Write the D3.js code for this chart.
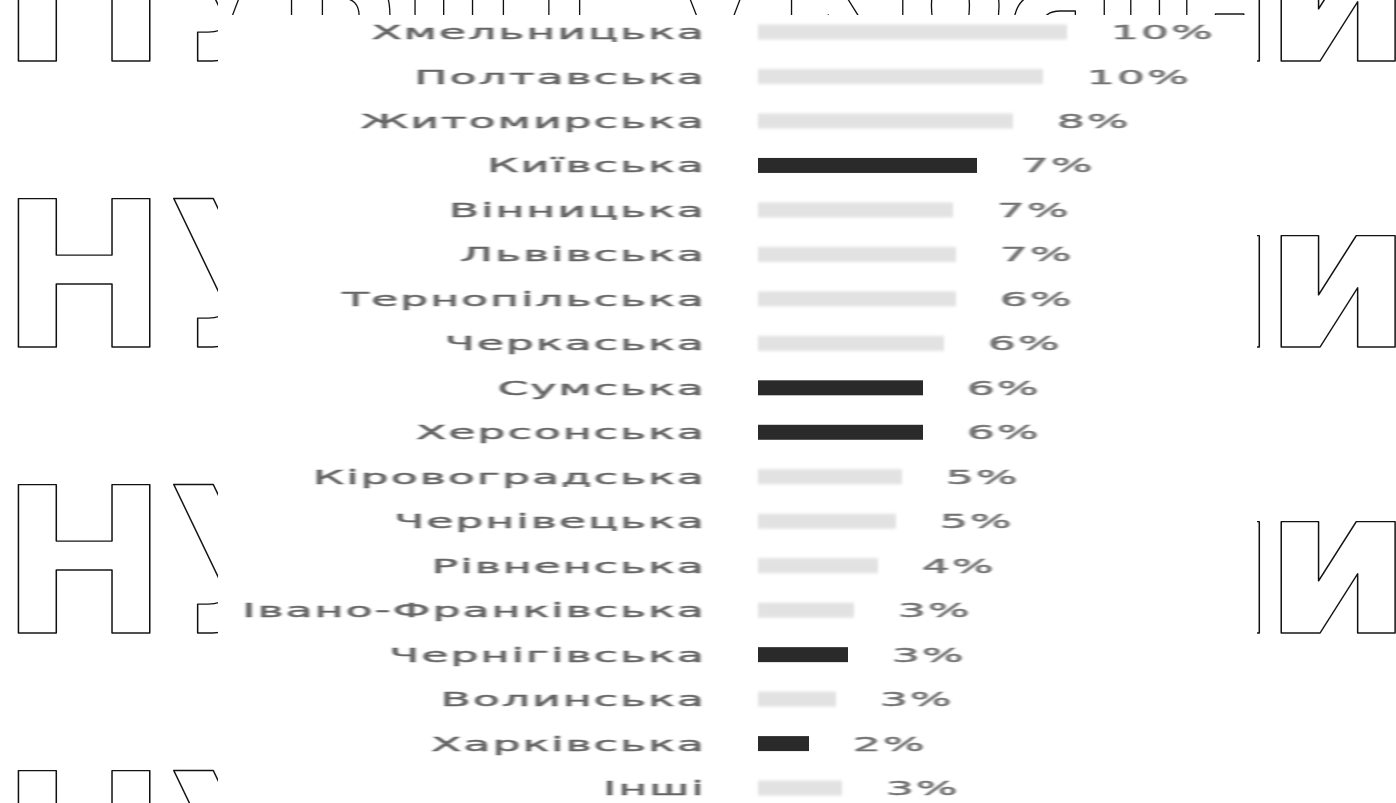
<!DOCTYPE html>
<html>
<head>
<meta charset="utf-8">
<script src="https://cdn.jsdelivr.net/npm/d3@7"></script>
<style>
  html, body { margin: 0; padding: 0; background: #ffffff; }
  svg { display: block; }
</style>
</head>
<body>
<svg id="chart" width="1396" height="803"></svg>
<script>
// ---- data ----
const categories = ["Хмельницька", "Полтавська", "Житомирська", "Київська", "Вінницька", "Львівська",
  "Тернопільська", "Черкаська", "Сумська", "Херсонська", "Кіровоградська", "Чернівецька",
  "Рівненська", "Івано-Франківська", "Чернігівська", "Волинська", "Харківська", "Інші"];
const values = [10.3, 9.5, 8.5, 7.3, 6.5, 6.6, 6.6, 6.2, 5.5, 5.5, 4.8, 4.6, 4.0, 3.2, 3.0, 2.6, 1.7, 2.8];
const valueLabels = ["10%", "10%", "8%", "7%", "7%", "7%", "6%", "6%", "6%", "6%", "5%", "5%", "4%", "3%", "3%", "3%", "2%", "3%"];
const highlighted = ["Київська", "Сумська", "Херсонська", "Чернігівська", "Харківська"];
const watermarkText = "НУБіП України";
const watermarkLeft = "НУ";
const watermarkRight1 = "н";
const watermarkRight2 = "и";
const watermarkRows = [0, 1, 2, 3];

// ---- layout ----
const W = 1396, H = 803;
const panel = { x0: 218, x1: 1257, y0: 15 };
const svg = d3.select("#chart");
const defs = svg.append("defs");
defs.append("filter").attr("id", "softBar").attr("x", "-5%").attr("y", "-50%").attr("width", "110%").attr("height", "200%")
  .append("feGaussianBlur").attr("stdDeviation", 1.6);
defs.append("filter").attr("id", "softText").attr("x", "-5%").attr("y", "-30%").attr("width", "110%").attr("height", "160%")
  .append("feGaussianBlur").attr("stdDeviation", 0.7);
defs.append("filter").attr("id", "softDark").attr("x", "-5%").attr("y", "-50%").attr("width", "110%").attr("height", "200%")
  .append("feGaussianBlur").attr("stdDeviation", 0.6);
defs.append("clipPath").attr("id", "clipLeft").append("rect").attr("x", 0).attr("y", 0).attr("width", panel.x0).attr("height", H);
defs.append("clipPath").attr("id", "clipRight").append("rect").attr("x", panel.x1).attr("y", 0).attr("width", W - panel.x1).attr("height", H);
defs.append("clipPath").attr("id", "clipTop").append("rect").attr("x", panel.x0).attr("y", 0).attr("width", panel.x1 - panel.x0).attr("height", panel.y0);

// watermark (outlined letters around the chart panel)
const wmStyle = sel => sel
  .style("font-family", "'DejaVu Sans Condensed', 'DejaVu Sans', sans-serif")
  .style("font-stretch", "condensed")
  .style("font-weight", "bold")
  .style("font-size", "203px")
  .attr("fill", "#ffffff")
  .attr("stroke", "#111111")
  .attr("stroke-width", 1.5)
  .attr("stroke-linejoin", "round");
const wm = svg.append("g");
const wmL = wm.append("g").attr("clip-path", "url(#clipLeft)");
const wmR = wm.append("g").attr("clip-path", "url(#clipRight)");
const wmT = wm.append("g").attr("clip-path", "url(#clipTop)");
watermarkRows.forEach(r => {
  const by = 61 + r * 286;
  wmL.append("g").attr("transform", `translate(0,${by}) scale(1.1,1)`)
    .append("text").attr("x", 0).attr("y", 0).call(wmStyle).attr("stroke-width", 1.4).text(watermarkLeft);
  wmR.append("g").attr("transform", `translate(1277,${by}) scale(1.17,1)`)
    .append("text").attr("x", 0).attr("y", 0).attr("text-anchor", "end").call(wmStyle).attr("stroke-width", 1.3).text(watermarkRight1);
  wmR.append("g").attr("transform", `translate(1413,${by}) scale(1.17,1)`)
    .append("text").attr("x", 0).attr("y", 0).attr("text-anchor", "end").call(wmStyle).attr("stroke-width", 1.3).text(watermarkRight2);
});
wmT.append("text").attr("x", 13).attr("y", 61)
  .attr("textLength", 1388).attr("lengthAdjust", "spacingAndGlyphs")
  .call(wmStyle).text(watermarkText);

const x = d3.scaleLinear().domain([0, 10]).range([758, 1058]);
const y = d3.scaleBand().domain(categories).range([9.8, 810.3]).padding(0);
const barH = 15;
const isHi = c => highlighted.includes(c);

const g = svg.append("g");

// axis line + ticks at band boundaries
g.append("line")
  .attr("x1", x(0) + 1).attr("x2", x(0) + 1)
  .attr("y1", 18).attr("y2", H)
  .attr("stroke", "#bdbdbd").attr("stroke-width", 2.2)
  .attr("filter", "url(#softDark)");
g.selectAll("line.tick")
  .data(categories.slice(1))
  .join("line")
  .attr("class", "tick")
  .attr("x1", x(0) - 24).attr("x2", x(0))
  .attr("y1", d => y(d)).attr("y2", d => y(d))
  .attr("stroke", "#cfcfcf").attr("stroke-width", 1.8)
  .attr("filter", "url(#softDark)");

// bars
g.selectAll("rect.bar")
  .data(categories)
  .join("rect")
  .attr("class", "bar")
  .attr("x", x(0))
  .attr("y", d => y(d) + y.bandwidth() / 2 - barH / 2)
  .attr("width", (d, i) => x(values[i]) - x(0))
  .attr("height", barH)
  .attr("fill", d => isHi(d) ? "#2b2b2b" : "#e2e2e2")
  .attr("filter", d => isHi(d) ? "url(#softDark)" : "url(#softBar)");

// category labels (wide, letter-spaced)
const sx = 2.3;
const textStyle = (sel, col) => sel
  .style("font-family", "'DejaVu Sans', sans-serif")
  .style("font-size", "19px")
  .style("letter-spacing", "1px")
  .attr("fill", col)
  .attr("stroke", col)
  .attr("stroke-width", 0.5)
  .attr("filter", "url(#softText)");

g.selectAll("text.cat")
  .data(categories)
  .join("text")
  .attr("class", "cat")
  .attr("transform", d => `translate(706,${y(d) + y.bandwidth() / 2 + 7}) scale(${sx},1)`)
  .attr("text-anchor", "end")
  .call(textStyle, "#666666")
  .text(d => d);

// value labels
g.selectAll("text.val")
  .data(categories)
  .join("text")
  .attr("class", "val")
  .attr("transform", (d, i) => `translate(${x(values[i]) + 44},${y(d) + y.bandwidth() / 2 + 7}) scale(${sx},1)`)
  .attr("text-anchor", "start")
  .call(textStyle, "#737373")
  .text((d, i) => valueLabels[i]);
</script>
</body>
</html>
